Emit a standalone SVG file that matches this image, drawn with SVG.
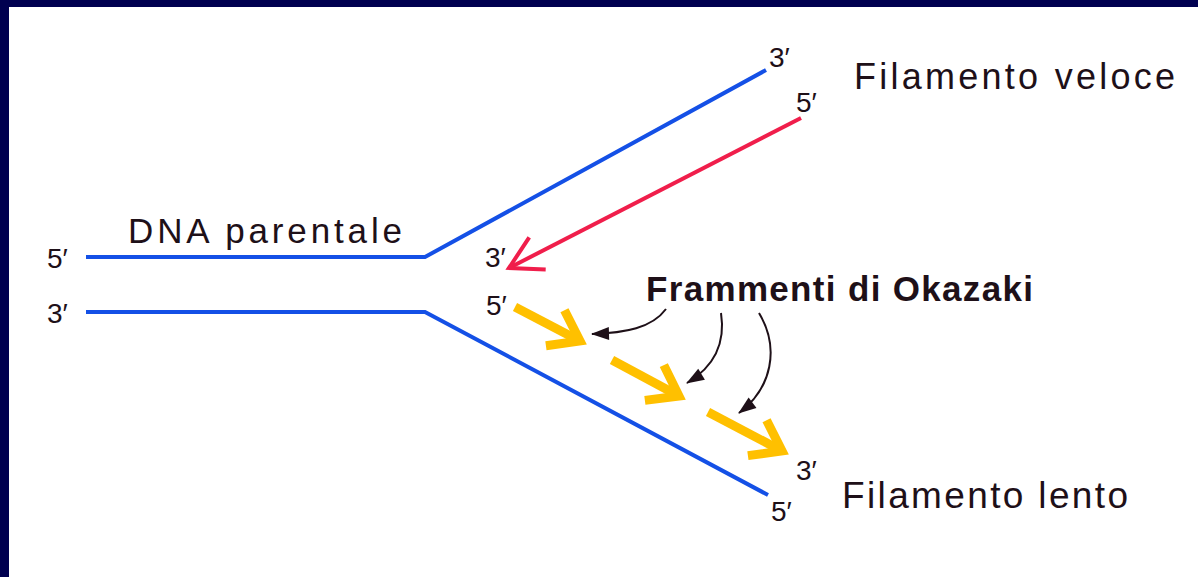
<svg xmlns="http://www.w3.org/2000/svg" width="1198" height="577" viewBox="0 0 1198 577">
  <style>
    .lbl { font-family: "Liberation Sans", Arial, sans-serif; fill: #1e1018; }
    .bold { font-weight: bold; }
    .end { font-size: 28px; }
    .blue { fill: none; stroke: #1450e6; stroke-width: 4; stroke-linejoin: miter; }
    .red { fill: none; stroke: #f01e4b; stroke-width: 4; }
    .yel { fill: none; stroke: #ffc000; stroke-width: 9; }
    .blk { fill: none; stroke: #1e1018; stroke-width: 2; }
  </style>
  <defs>
    <marker id="redHead" markerUnits="userSpaceOnUse" orient="auto" refX="0" refY="0" markerWidth="60" markerHeight="60" viewBox="-40 -30 60 60" overflow="visible">
      <path d="M-32,-18 L0,0 L-32,18" fill="none" stroke="#f01e4b" stroke-width="4" stroke-linejoin="miter"/>
    </marker>
    <marker id="yelHead" markerUnits="userSpaceOnUse" orient="auto" refX="0" refY="0" markerWidth="60" markerHeight="60" viewBox="-40 -30 60 60" overflow="visible">
      <path d="M-28,-20 L0,0 L-28,20" fill="none" stroke="#ffc000" stroke-width="9" stroke-linejoin="miter"/>
    </marker>
    <marker id="blkHead" markerUnits="userSpaceOnUse" orient="auto" refX="17" refY="6.5" markerWidth="20" markerHeight="14" viewBox="0 0 20 14" overflow="visible">
      <path d="M0,0 L18,6.5 L0,13 z" fill="#1e1018"/>
    </marker>
  </defs>

  <rect x="0" y="0" width="1198" height="577" fill="#000050"/>
  <rect x="9" y="7" width="1189" height="570" fill="#ffffff"/>

  <g id="connectors">
    <path id="strand-top" class="blue" d="M86,257 L425,257 L766,70"/>
    <path id="strand-bottom" class="blue" d="M86,312 L425,312 L768,495"/>
    <path id="leading" class="red" d="M801,118 L509,268" marker-end="url(#redHead)"/>
    <path id="frag1" class="yel" d="M515,307 L580,341" marker-end="url(#yelHead)"/>
    <path id="frag2" class="yel" d="M612,360 L679,396" marker-end="url(#yelHead)"/>
    <path id="frag3" class="yel" d="M708,412 L782,451" marker-end="url(#yelHead)"/>
    <path id="ptr1" class="blk" d="M666,309 C652,328 625,333 592,334" marker-end="url(#blkHead)"/>
    <path id="ptr2" class="blk" d="M721,313 C726,345 712,368 687,383" marker-end="url(#blkHead)"/>
    <path id="ptr3" class="blk" d="M759,313 C780,348 772,388 739,413" marker-end="url(#blkHead)"/>
  </g>

  <g id="label-dna">
    <text class="lbl" x="128" y="243" font-size="35" textLength="274" lengthAdjust="spacing">DNA parentale</text>
  </g>
  <g id="label-veloce">
    <text class="lbl" x="854" y="89" font-size="36" textLength="321" lengthAdjust="spacing">Filamento veloce</text>
  </g>
  <g id="label-lento">
    <text class="lbl" x="842" y="508" font-size="37" textLength="286" lengthAdjust="spacing">Filamento lento</text>
  </g>
  <g id="label-okazaki">
    <text class="lbl bold" x="646" y="301" font-size="35" textLength="387" lengthAdjust="spacing">Frammenti di Okazaki</text>
  </g>
  <g id="ends">
    <text class="lbl end" x="47" y="268">5′</text>
    <text class="lbl end" x="47" y="323">3′</text>
    <text class="lbl end" x="769" y="67">3′</text>
    <text class="lbl end" x="796" y="112">5′</text>
    <text class="lbl end" x="485" y="267">3′</text>
    <text class="lbl end" x="486" y="315">5′</text>
    <text class="lbl end" x="796" y="480">3′</text>
    <text class="lbl end" x="771" y="521">5′</text>
  </g>
</svg>
